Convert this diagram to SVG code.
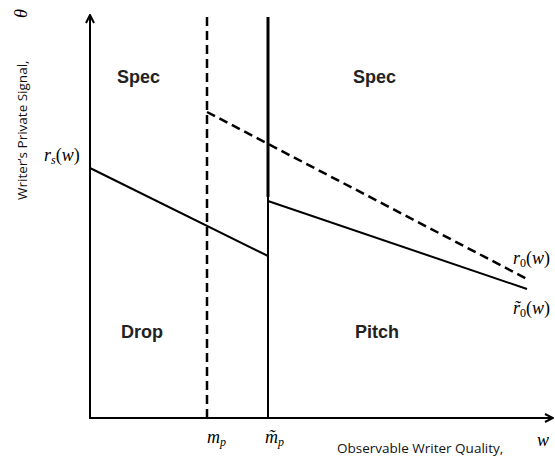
<svg xmlns="http://www.w3.org/2000/svg" width="555" height="461" viewBox="0 0 555 461">
<style>
.ax{stroke:#000;stroke-width:2;fill:none}
.ln{stroke:#000;stroke-width:2;fill:none}
.dash{stroke:#000;stroke-width:2.5;fill:none;stroke-dasharray:9,5}
.reg{font-family:"Liberation Sans",Arial,sans-serif;font-weight:bold;font-size:18px;fill:#222}
.lab{font-family:"Open Sans","Liberation Sans",sans-serif;font-size:13.5px;fill:#111}
.m{font-family:"Liberation Serif","DejaVu Serif",serif;font-style:italic;font-size:18px;fill:#000}
.up{font-style:normal}
.sub{font-size:12px}
</style>
<defs>
<marker id="arr" viewBox="0 0 10 10" refX="9" refY="5" markerWidth="10" markerHeight="10" markerUnits="userSpaceOnUse" orient="auto">
<path d="M1,1 L9,5 L1,9" fill="none" stroke="#000" stroke-width="2"/>
</marker>
</defs>
<g id="connectors">
<line id="y-axis" class="ax" x1="90" y1="419" x2="90" y2="15" marker-end="url(#arr)"/>
<line id="x-axis" class="ax" x1="89" y1="418" x2="553" y2="418" marker-end="url(#arr)"/>
<line id="mp-line" class="dash" x1="207" y1="17" x2="207" y2="418"/>
<line id="mtp-line-top" stroke="#000" stroke-width="3" x1="268" y1="17" x2="268" y2="197"/>
<line id="mtp-line-bot" stroke="#000" stroke-width="2" x1="268" y1="196" x2="268" y2="418"/>
<line id="rs" class="ln" x1="90" y1="168" x2="268" y2="256"/>
<line id="r0t" class="ln" x1="268" y1="201" x2="527" y2="289"/>
<line id="r0" class="dash" x1="207" y1="112" x2="527" y2="279"/>
</g>
<g id="regions">
<text id="spec1" class="reg" x="117" y="83">Spec</text>
<text id="spec2" class="reg" x="353" y="83">Spec</text>
<text id="drop" class="reg" x="121" y="338">Drop</text>
<text id="pitch" class="reg" x="355" y="338">Pitch</text>
</g>
<g id="labels">
<text class="m" x="44" y="161">r<tspan class="sub" dy="3">s</tspan><tspan class="up" dy="-3">(</tspan>w<tspan class="up">)</tspan></text>
<text class="m" x="513" y="264">r<tspan class="sub up" dy="3">0</tspan><tspan class="up" dy="-3">(</tspan>w<tspan class="up">)</tspan></text>
<text class="m" x="513" y="314">r&#x303;<tspan class="sub up" dy="3">0</tspan><tspan class="up" dy="-3">(</tspan>w<tspan class="up">)</tspan></text>
<text class="m" x="207" y="443">m<tspan class="sub" dy="3">p</tspan></text>
<text class="m" x="265" y="443">m&#x303;<tspan class="sub" dy="3">p</tspan></text>
<text class="lab" x="337" y="453">Observable Writer Quality,</text>
<text class="m" x="537" y="446" font-size="20">w</text>
<g transform="translate(27,200) rotate(-90)">
<text class="lab" x="0" y="0" font-size="14">Writer’s Private Signal,</text>
<text class="m" x="182" y="0" font-size="18">θ</text>
</g>
</g>
</svg>
